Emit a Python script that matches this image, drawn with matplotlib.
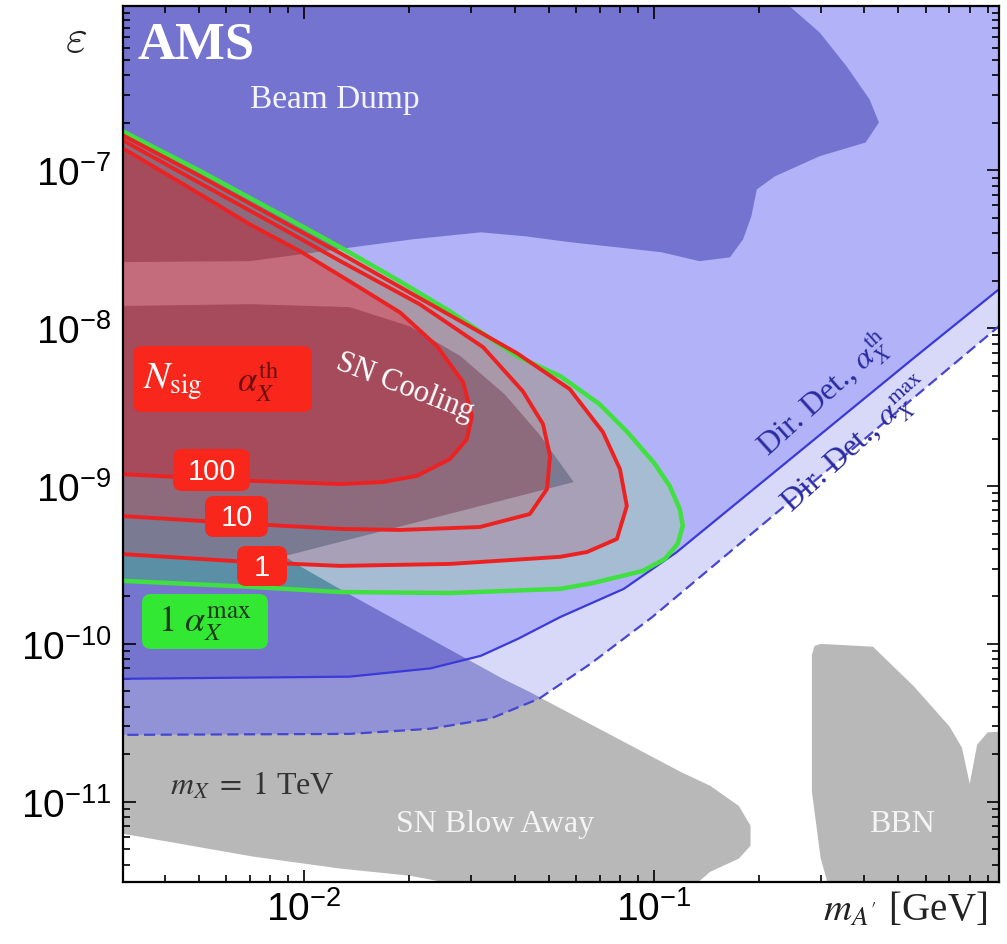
import numpy as np
import matplotlib
matplotlib.use('Agg')
import matplotlib.pyplot as plt
from matplotlib.patches import Polygon, FancyBboxPatch
from matplotlib.path import Path
from matplotlib.transforms import IdentityTransform
from matplotlib.ticker import NullFormatter, LogLocator, FixedLocator

plt.rcParams['font.family'] = ['Liberation Sans', 'DejaVu Sans']
plt.rcParams['mathtext.fontset'] = 'stix'

# ---------------- data (m_A' in GeV, epsilon) ----------------
dd_th_m   = [2.8e-3, 1.35e-2, 2.3e-2, 3.2e-2, 4.1e-2, 5.4e-2, 8.2e-2, 0.116, 0.55, 1.04]
dd_th_eps = [6.0e-11, 6.2e-11, 7.0e-11, 8.4e-11, 1.08e-10, 1.48e-10, 2.23e-10, 3.8e-10, 6.4e-9, 2.0e-8]

dd_max_m   = [2.8e-3, 1.35e-2, 2.3e-2, 3.4e-2, 4.7e-2, 6.6e-2, 9.9e-2, 0.955, 1.04]
dd_max_eps = [2.65e-11, 2.69e-11, 2.9e-11, 3.35e-11, 4.5e-11, 7.5e-11, 1.48e-10, 1.0e-8, 1.18e-8]

beam_m   = [2.8e-3, 7.0e-3, 1.44e-2, 2.05e-2, 3.2e-2, 4.3e-2, 5.8e-2, 7.8e-2, 0.105, 0.135,
            0.165, 0.18, 0.19, 0.197, 0.222, 0.298, 0.403, 0.44, 0.414, 0.356, 0.298, 0.245,
            0.229, 2.8e-3]
beam_eps = [2.62e-8, 2.66e-8, 3.3e-8, 3.66e-8, 4.05e-8, 3.82e-8, 3.5e-8, 3.26e-8, 3.03e-8, 2.66e-8,
            2.81e-8, 3.66e-8, 5.12e-8, 7.58e-8, 9.17e-8, 1.23e-7, 1.5e-7, 2.01e-7, 2.81e-7, 4.55e-7,
            7.47e-7, 1.09e-6, 1.4e-6, 1.4e-6]

blow_m   = [2.8e-3, 7.0e-3, 1.35e-2, 2.0e-2, 2.8e-2, 3.75e-2, 4.7e-2, 5.9e-2, 8.8e-3, 9.7e-3,
            1.31e-2, 3.7e-2, 4.4e-2, 0.119, 0.145, 0.175, 0.189, 0.189, 0.175, 0.145, 0.127,
            3.2e-2, 2.0e-2, 1.27e-2, 7.15e-3, 3.03e-3, 2.8e-3]
blow_eps = [1.38e-8, 1.42e-8, 1.36e-8, 1.03e-8, 6.65e-9, 3.8e-9, 2.13e-9, 1.06e-9, 3.6e-10, 3.12e-10,
            2.13e-10, 6.0e-11, 4.97e-11, 1.55e-11, 1.26e-11, 9.4e-12, 7.05e-12, 5.27e-12, 4.36e-12,
            3.6e-12, 2.8e-12, 2.8e-12, 3.4e-12, 3.77e-12, 4.49e-12, 6.27e-12, 6.46e-12]

bbn_m   = [0.324, 0.30, 0.283, 0.283, 0.288, 0.30, 0.423, 0.553, 0.70, 0.76, 0.80, 0.84, 0.90, 1.04, 1.04]
bbn_eps = [2.4e-12, 4.36e-12, 1.16e-11, 8.5e-11, 9.7e-11, 1.0e-10, 9.6e-11, 5.4e-11, 3.0e-11,
           2.2e-11, 1.3e-11, 2.3e-11, 2.75e-11, 2.8e-11, 2.4e-12]

green_m   = [3.0e-3, 5.05e-3, 8.5e-3, 1.27e-2, 1.88e-2, 2.61e-2, 4.06e-2, 5.4e-2, 7.0e-2, 8.4e-2,
             0.1007, 0.111, 0.1186, 0.121, 0.117, 0.1075, 9.3e-2, 6.7e-2, 5.4e-2, 2.61e-2,
             1.27e-2, 7.0e-3, 3.0e-3]
green_eps = [1.79e-7, 9.9e-8, 5.3e-8, 3.26e-8, 1.98e-8, 1.28e-8, 6.65e-9, 4.97e-9, 3.3e-9, 2.2e-9,
             1.38e-9, 1.0e-9, 7.15e-10, 5.6e-10, 4.3e-10, 3.45e-10, 2.9e-10, 2.43e-10, 2.23e-10,
             2.1e-10, 2.13e-10, 2.3e-10, 2.51e-10]

n1_m   = [3.0e-3, 5.05e-3, 8.54e-3, 1.27e-2, 2.61e-2, 4.06e-2, 5.75e-2, 7.15e-2, 8.0e-2, 8.37e-2,
          7.84e-2, 6.44e-2, 5.39e-2, 2.61e-2, 1.27e-2, 7.0e-3, 3.0e-3]
n1_eps = [1.69e-7, 9.17e-8, 4.83e-8, 2.98e-8, 1.21e-8, 6.95e-9, 4.11e-9, 2.2e-9, 1.28e-9, 7.47e-10,
          4.62e-10, 3.82e-10, 3.56e-10, 3.21e-10, 3.12e-10, 3.3e-10, 3.71e-10]

n10_m   = [3.0e-3, 5.05e-3, 8.54e-3, 1.27e-2, 2.14e-2, 3.25e-2, 4.22e-2, 4.82e-2, 5.05e-2, 4.95e-2,
           4.42e-2, 3.18e-2, 1.88e-2, 1.27e-2, 7.0e-3, 3.0e-3]
n10_eps = [1.57e-7, 8.28e-8, 4.36e-8, 2.66e-8, 1.42e-8, 7.58e-9, 3.99e-9, 2.47e-9, 1.55e-9, 9.58e-10,
           6.65e-10, 5.5e-10, 5.27e-10, 5.35e-10, 5.75e-10, 6.46e-10]

n100_m   = [3.0e-3, 5.05e-3, 7.0e-3, 9.75e-3, 1.35e-2, 1.88e-2, 2.4e-2, 2.85e-2, 3.02e-2, 2.92e-2,
            2.61e-2, 2.1e-2, 1.68e-2, 1.27e-2, 7.0e-3, 3.0e-3]
n100_eps = [1.40e-7, 7.05e-8, 4.55e-8, 3.07e-8, 1.98e-8, 1.26e-8, 7.69e-9, 4.55e-9, 2.77e-9, 1.98e-9,
            1.48e-9, 1.16e-9, 1.06e-9, 1.03e-9, 1.08e-9, 1.19e-9]

contour_labels = ['1', '10', '100']
y_major = [1e-11, 1e-10, 1e-9, 1e-8, 1e-7]

# ---------------- figure ----------------
W, H = 1007, 945
fig = plt.figure(figsize=(W / 100, H / 100), dpi=100)
ax = fig.add_axes([122.7 / W, (H - 883) / H, 876.3 / W, 876 / H])
ax.set_xscale('log')
ax.set_yscale('log')
ax.set_xlim(3.03e-3, 0.97)
ax.set_ylim(3.1e-12, 1.1e-6)

TOP = 5e-6


def xy(m, e):
    return np.column_stack([m, e])


def above(m, e):
    return np.column_stack([list(m) + [m[-1], m[0]], list(e) + [TOP, TOP]])


def clip_path(v):
    v = np.vstack([v, v[:1]])
    return Path(v, closed=True)


def fill(v, color, clip=None, z=1.0):
    p = Polygon(v, closed=True, facecolor=color, edgecolor='none', zorder=z)
    ax.add_patch(p)
    if clip is not None:
        p.set_clip_path(clip_path(clip), ax.transData)
    return p


reg_max = above(dd_max_m, dd_max_eps)
reg_th = above(dd_th_m, dd_th_eps)
reg_gray = xy(blow_m, blow_eps)
reg_beam = xy(beam_m, beam_eps)

fill(reg_max, '#d8d8f9', z=1.0)
fill(reg_th, '#b2b2f8', z=1.1)
fill(reg_gray, '#b8b8b8', z=1.2)
fill(xy(bbn_m, bbn_eps), '#b8b8b8', z=1.2)
fill(reg_max, '#9292d6', clip=reg_gray, z=1.3)
fill(reg_th, '#7575d0', clip=reg_gray, z=1.4)
fill(reg_beam, '#7474d0', z=1.5)

zones = [
    (xy(green_m, green_eps), '#a6bcd2', '#5b8fa6'),
    (xy(n1_m, n1_eps), '#a8a0b6', '#7a7a92'),
    (xy(n10_m, n10_eps), '#a898a8', '#8d6a7c'),
    (xy(n100_m, n100_eps), '#c46c7c', '#a54b5c'),
]
z = 2.0
for v, light, dark in zones:
    fill(v, light, z=z)
    fill(v, dark, clip=reg_gray, z=z + 0.01)
    fill(v, dark, clip=reg_beam, z=z + 0.02)
    z += 0.1

ax.plot(dd_th_m, dd_th_eps, color='#3a3ad8', lw=1.6, zorder=3)
ax.plot(dd_max_m, dd_max_eps, color='#4646d0', lw=1.6, ls=(0, (5, 2.5)), zorder=3)

for m, e, c in [(green_m, green_eps, '#3fe03f'), (n1_m, n1_eps, '#ec2222'),
                (n10_m, n10_eps, '#ec2222'), (n100_m, n100_eps, '#ec2222')]:
    ax.plot(list(m) + [m[0]], list(e) + [e[0]], color=c, lw=3.2 if c == '#3fe03f' else 2.8,
            solid_joinstyle='round', zorder=4)

# ---------------- axes styling ----------------
for s in ax.spines.values():
    s.set_linewidth(1.6)
    s.set_zorder(10)
ax.xaxis.set_minor_formatter(NullFormatter())
ax.yaxis.set_minor_formatter(NullFormatter())
ax.yaxis.set_major_locator(FixedLocator(y_major))
ax.yaxis.set_minor_locator(LogLocator(base=10, subs=np.arange(2, 11), numticks=20))
ax.tick_params(which='both', direction='in', top=True, right=True, width=1.2, zorder=10)
ax.tick_params(which='major', length=9, labelsize=28)
ax.tick_params(which='minor', length=5)
ax.tick_params(axis='x', pad=6)
ax.tick_params(axis='y', pad=8)

# ---------------- texts (pixel placement) ----------------
ID = IdentityTransform()


def T(x, y, s, **kw):
    kw.setdefault('ha', 'center')
    kw.setdefault('va', 'center')
    kw.setdefault('zorder', 7)
    return fig.text(x, H - y, s, transform=ID, **kw)


def box(x0, y0, x1, y1, color):
    p = FancyBboxPatch((x0, H - y1), x1 - x0, y1 - y0, boxstyle='round,pad=0,rounding_size=9',
                       transform=ID, facecolor=color, edgecolor='none', zorder=5)
    fig.add_artist(p)


serif = 'Liberation Serif'
T(196, 46, 'AMS', family=serif, weight='bold', size=38, color='white')
T(335, 100, 'Beam Dump', family=serif, size=24, color='#f4f4ff')
T(405, 387, 'SN Cooling', family=serif, size=22, color='white', rotation=-21)
T(252, 786, r'$m_X\;=\;1$ TeV', family=serif, size=23, color='#333333')
T(495, 825, 'SN Blow Away', family=serif, size=23, color='#f4f4f4')
T(902, 825, 'BBN', family=serif, size=23, color='#f4f4f4')
T(824, 394, r'Dir. Det., $\alpha_X^{\rm th}$', family=serif, size=23, color='#2a2aa0', rotation=42)
T(858, 446, r'Dir. Det., $\alpha_X^{\rm max}$', family=serif, size=23, color='#2a2aa0', rotation=42)

box(133, 347, 312, 413, '#f8261b')
T(173, 382, r'$N_{\rm sig}$', size=28, color='white')
T(258, 382, r'$\alpha_X^{\rm th}$', size=25, color='#6a1010')

label_boxes = [(237, 547, 287, 587), (205, 497, 268, 538), (173, 450, 250, 492)]
for lab, (x0, y0, x1, y1) in zip(contour_labels, label_boxes):
    box(x0, y0, x1, y1, '#f8261b')
    T((x0 + x1) / 2, (y0 + y1) / 2 + 1, lab, size=21, color='white')

box(142, 595, 268, 650, '#33e833')
T(205, 623, r'$1\ \alpha_X^{\rm max}$', size=26, color='#1e3a1e')

T(76, 40, r'$\varepsilon$', size=34, color='#222222', math_fontfamily='cm')
T(905, 911, r"$m_{A'}$ [GeV]", family=serif, size=28, color='#222222')

fig.savefig('out.png', dpi=100)
